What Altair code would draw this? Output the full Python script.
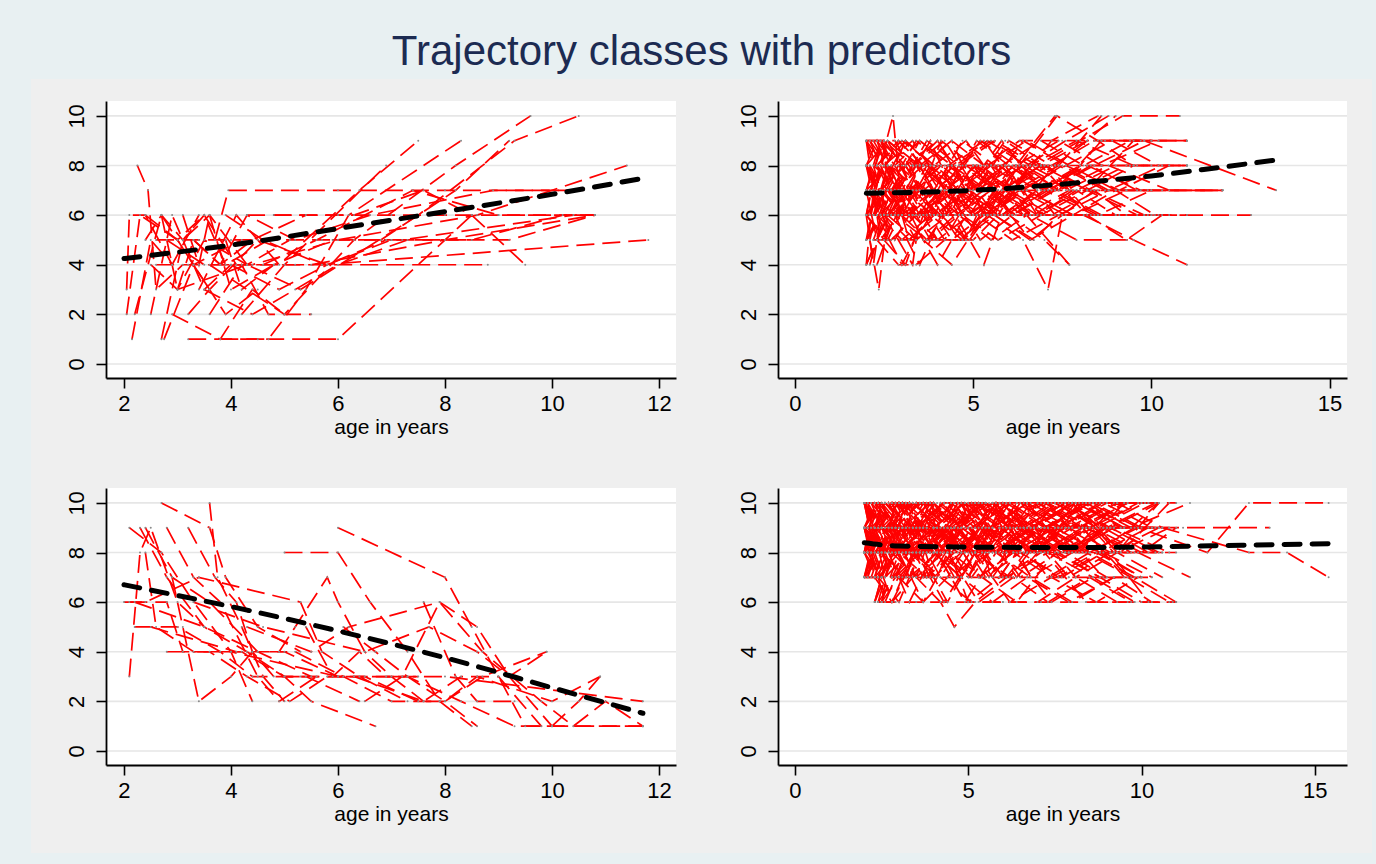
import altair as alt
import pandas as pd

TITLE = "Trajectory classes with predictors"
X_TITLE = "age in years"

# Individual trajectories per latent class, written as "age score age score ..."
CLASS1_PATHS = [
    "2.05 3 2.1 6 2.4 6 2.9 4",
    "2.25 8 2.45 7 2.6 3 3.1 4",
    "2.05 2 2.3 6 3.0 5 3.6 3",
    "2.15 1 2.5 5 2.9 4 3.4 6",
    "2.2 2 2.7 6 3.3 4 4.2 5",
    "2.5 2 2.9 6 3.5 3 4.0 4",
    "2.7 1 3.1 5 3.6 6 4.3 4",
    "2.75 1 3.3 4 3.9 2 4.5 3",
    "2.9 2 3.8 1 4.4 3 5.0 2",
    "3.2 1 4.5 1 6.0 1 8.5 6",
    "3.7 5 3.95 7 6.0 7 8.0 7 10.3 7",
    "2.4 6 3.0 5 3.5 6 4.1 4 5.2 4 8.8 4",
    "3.4 3 4.1 6 4.9 4 6.4 7 7.5 9",
    "4.2 2 5.0 4 6.9 8",
    "3.8 1 4.7 1 5.4 3 6.2 6 8.3 9",
    "3.6 4 5.0 2 6.3 5 8.2 8 9.6 10",
    "3.0 3 4.3 4 5.3 3 7.5 6 9.3 9 10.5 10",
    "2.8 5 3.5 4 4.4 4 6.0 5 8.6 6 11.4 8",
    "2.6 4 3.2 4 4.0 4 5.5 4 8.0 5 10.8 6",
    "3.9 6 4.6 5 5.7 4 11.8 5",
    "4.8 6 6.3 6 7.6 7 8.5 6 9.5 4",
    "3.3 5 3.8 4 4.3 6 5.2 5 6.6 6 8.9 7 10.6 7",
    "2.5 4 3.0 3 3.5 5 4.3 4 5.1 5",
    "3.6 2 4.2 4 4.7 2 5.5 2",
    "4.6 4 5.6 5 7.4 7 9.0 6 10.8 6",
    "4.3 6 6.0 6 7.0 6 8.0 6 9.0 6 10.8 6",
    "2.4 5 2.7 6 3.1 5 3.5 6 3.9 4 4.7 5",
    "3.1 6 3.4 4 3.6 6 4.0 3 4.8 4",
    "2.7 6 3.0 3 3.3 5 3.8 4 4.4 5 5.4 6",
    "3.9 5 4.2 3 4.8 4 5.9 5 7.2 5 10.4 6",
    "4.0 4 4.9 3 5.8 4 7.0 5 8.5 5 10.2 6 10.8 6",
    "6.8 5 8.2 7 9.2 9",
    "3.5 3 4.4 2 5.2 3 6.0 4 7.3 5 9.2 5 10.8 6",
    "2.6 5 3.4 5 4.0 5 4.8 5 5.7 5 7.0 5",
    "3.2 2 3.6 3 4.5 5 5.8 4 6.9 5",
]

CLASS2_PATHS = [
    "2.0 9 2.3 6 2.7 8 3.4 7 4.1 8 5.0 6 6.2 7",
    "2.0 6 2.2 4 2.5 7 3.1 9 3.8 8 4.6 7 5.5 8 6.4 6",
    "2.1 8 2.4 5 2.9 6 3.5 8 4.2 6 5.1 7 6.0 9 7.2 8 8.4 9",
    "2.0 4 2.2 7 2.75 10 2.95 7 3.5 6 4.3 7 5.2 6",
    "2.1 5 2.35 3 2.6 6 3.2 7 4.0 5 4.9 6 5.8 7 6.9 8",
    "2.0 7 2.5 9 3.0 8 3.6 6 4.4 8 5.4 9 6.5 8 7.6 9 8.8 10",
    "2.2 6 2.6 8 3.2 5 3.9 6 4.7 8 5.6 7 6.7 6 7.8 7",
    "2.0 8 2.3 9 2.8 7 3.3 8 4.0 9 4.8 7 5.7 6 6.6 8",
    "2.1 9 2.7 7 3.4 6 4.2 7 5.1 8 6.1 6 7.3 7 8.6 6 10.2 6",
    "2.0 5 2.4 8 3.0 6 3.7 5 4.5 6 5.3 4 5.8 6 6.8 7",
    "2.3 4 2.8 6 3.5 4 4.1 6 4.8 5 5.6 7 6.6 6",
    "2.0 6 2.6 5 3.3 7 4.1 8 5.0 7 6.0 8 7.1 7 8.3 8 9.6 7 12.0 7",
    "2.2 7 2.9 9 3.6 8 4.4 9 5.3 8 6.3 9 7.5 9 8.7 9 9.8 9",
    "2.0 9 2.5 8 3.1 9 3.9 7 4.8 8 5.9 8 7.0 8 8.2 7 9.5 8 11.0 8",
    "2.4 6 3.0 7 3.8 5 4.6 6 5.5 5 6.5 6 7.7 4",
    "2.1 7 2.8 5 3.6 7 4.5 6 5.4 6 6.4 5 7.1 3 7.5 6 8.4 7 9.3 6",
    "2.0 8 2.4 7 3.0 6 3.8 8 4.7 6 5.7 5 6.9 6 8.1 6 9.5 5 11.0 4",
    "2.2 5 2.7 7 3.4 8 4.3 7 5.2 9 6.2 8 7.3 10",
    "2.0 6 2.3 8 2.9 7 3.7 9 4.6 8 5.6 9 6.8 8 8.0 9 9.2 10 10.8 10",
    "2.5 5 3.1 4 3.6 6 4.5 7 5.4 6 6.5 7 7.8 6 9.0 7 10.1 6",
    "2.0 7 2.6 6 3.3 6 4.0 5 4.8 5 5.1 6 6.1 5 7.4 6",
    "2.3 8 3.0 9 3.9 8 4.8 9 5.8 7 6.9 8 8.2 9 9.7 9 11.0 9",
    "2.0 5 2.5 6 3.2 5 4.0 6 4.9 6 5.9 6 7.0 7 8.4 6 9.8 6 12.8 6",
    "2.1 4 2.5 6 3.3 4 3.5 6 4.3 8 5.3 7 6.4 8 7.7 7",
    "2.0 9 2.4 7 3.1 8 3.9 6 4.9 7 5.9 6 7.1 7 8.4 8 9.8 9 13.5 7",
    "2.6 9 3.3 7 4.1 6 5.0 8 6.0 6 7.0 5 7.7 4",
    "2.0 8 2.7 6 3.5 7 4.4 5 5.3 6 6.3 7 7.6 8 9.1 7 10.5 8",
    "2.2 6 2.9 8 3.7 7 4.6 5 5.5 6 6.6 8 7.9 7 9.3 8 11.0 8",
    "2.0 7 2.4 9 3.2 7 4.0 8 4.9 6 5.8 8 6.9 9 8.1 8 9.4 9 11.0 9",
    "2.1 6 2.6 9 3.4 8 4.3 6 5.2 8 6.2 7 7.4 8 8.7 7 10.0 7 12.0 7",
    "2.0 8 2.3 6 3.0 5 3.8 6 4.7 5 5.7 7 6.8 6 8.0 7",
    "2.3 9 2.8 8 3.5 9 4.4 8 5.4 7 6.4 9 7.6 8 8.9 9 10.2 8",
    "2.0 4 2.6 6 3.4 5 4.2 7 5.1 8 6.1 7 7.2 9 8.5 10",
    "2.2 7 2.7 5 3.4 6 4.1 7 5.0 6 6.0 7 7.2 6 8.5 7 9.9 7",
    "2.0 6 2.4 7 3.1 9 3.9 8 4.8 7 5.8 9 6.9 7 8.2 8 9.6 8",
    "2.4 7 3.2 6 4.0 4 4.8 6 5.9 7 7.0 6 8.6 6 9.9 6",
    "2.0 8 2.5 6 3.3 8 4.2 9 5.1 7 6.2 8 7.4 9 8.6 8 10.2 9 11.0 9",
    "2.1 9 2.6 8 3.3 6 4.1 9 5.0 8 6.0 7 7.1 8 8.3 6",
    "2.3 6 3.0 4 3.7 6 4.6 8 5.6 6 6.7 5 7.4 6 8.8 7",
    "2.0 7 2.7 8 3.5 6 4.3 7 5.2 5 6.1 6 7.2 7 8.5 6 10.0 7",
    "2.2 8 3.0 7 3.8 9 4.7 6 5.7 8 6.8 7 8.0 8 9.4 8 11.0 8",
    "2.0 5 2.4 6 3.1 8 4.0 6 4.9 5 5.9 7 7.0 8 8.3 7 9.8 6",
    "2.5 8 3.3 9 4.2 7 5.1 6 6.1 8 7.3 7 8.6 9 10.0 9",
    "2.0 6 2.6 7 3.4 5 4.3 6 5.3 7 6.4 6 7.7 7 9.3 7",
    "2.1 7 2.5 8 3.2 6 3.9 7 4.7 9 5.6 8 6.6 6 7.9 5 9.5 5",
    "2.0 9 2.8 9 3.6 7 4.5 8 5.5 9 6.6 8 7.9 9 9.5 8 11.0 8",
    "2.3 5 2.9 7 3.6 5 4.4 4 5.3 6 6.3 7 7.6 6 9.0 6 10.5 6",
    "2.0 8 2.6 9 3.5 8 4.4 7 5.4 8 6.5 9 7.7 8 9.0 7 10.3 7 12.0 7",
    "2.2 6 2.8 7 3.6 8 4.5 6 5.5 7 6.6 5 7.8 6 9.1 6",
    "2.0 7 2.3 5 3.0 7 3.8 7 4.6 6 5.5 8 6.5 7 7.8 6 9.3 7",
    "2.1 8 2.9 6 3.7 8 4.6 7 5.6 6 6.7 8 7.4 8 8.6 10",
    "2.0 6 2.5 5 3.2 7 4.1 6 5.0 8 6.1 6 7.3 8 8.2 9 9.0 10",
    "2.4 9 3.1 8 4.0 9 4.9 7 5.9 8 6.9 6 8.2 7 9.6 6 11.0 6",
    "2.0 5 2.7 7 3.5 9 4.4 8 5.4 6 6.4 7 7.5 8 8.8 7 10.3 8 11.0 8",
    "2.2 7 2.8 6 3.5 7 4.3 8 5.2 7 6.2 6 7.3 6 8.5 6 10.0 6",
    "3.0 6 3.8 8 4.6 6 5.5 7 6.4 8 7.4 7 8.6 9 10.2 9",
    "2.0 9 2.3 8 2.9 9 3.6 8 4.3 7 5.1 9 6.0 8 7.0 7 8.0 8",
    "2.1 5 2.6 8 3.3 7 4.2 5 5.0 7 5.9 8 6.8 6 7.9 7 9.0 6",
    "2.0 7 2.8 6 3.7 5 4.7 7 5.8 6 6.9 7 8.2 8 9.7 7 12.0 7",
    "2.3 8 3.0 6 3.9 7 4.8 8 5.8 7 6.9 8 8.2 7 9.5 9 10.0 9",
    "2.0 6 2.4 9 3.2 6 4.0 7 4.8 5 5.4 6 6.2 8 7.3 6",
    "2.2 9 3.0 7 3.9 6 4.9 7 5.9 9 6.9 8 8.2 6 9.3 5 10.3 6",
    "2.0 8 2.6 7 3.4 9 4.3 8 5.3 9 6.3 7 7.6 7 9.0 8",
    "2.1 6 2.7 6 3.5 8 4.4 9 5.3 6 6.3 8 7.4 7 8.8 8 10.5 7",
    "2.0 9 2.5 9 3.3 8 4.2 8 5.2 8 6.2 8 7.3 8 8.6 8 10.0 8",
    "2.0 6 2.5 6 3.3 6 4.2 6 5.1 6 6.1 6 7.2 6 8.6 6 10.0 6",
    "2.2 5 3.0 5 3.9 5 4.7 5 5.6 6 6.6 5 7.5 6",
    "2.0 4 2.3 5 2.9 4 3.4 4 4.2 5 5.0 5 5.7 6",
    "2.6 7 3.4 6 4.5 7 5.6 6 6.3 8 7.35 10 8.5 9 9.5 8 10.5 8",
]

CLASS3_PATHS = [
    "2.1 3 2.3 8 2.5 9 3.0 6 3.5 5",
    "3.6 10 3.75 7 4.2 5 4.6 3 5.0 2",
    "2.7 10 3.6 9 3.9 7 4.5 5 5.3 4",
    "2.1 9 2.7 8 3.3 6 4.0 4 4.4 2",
    "5.0 8 6.0 8 6.6 6 7.3 4 7.9 2 8.5 1",
    "2.9 7 3.1 5 3.4 2 4.0 3 4.4 4",
    "6.0 9 8.0 7 8.5 5 9.0 3 9.5 1 10.0 1 11.7 1",
    "2.0 6 2.4 6 3.4 7 5.3 6 5.7 4 6.4 3 7.3 2",
    "4.9 4 5.2 5 5.8 7 6.0 6 6.5 4 7.0 3 7.6 2",
    "4.3 5 5.5 4 6.2 5 7.9 6 8.6 5 9.2 3 10.0 1",
    "3.3 6 4.6 5 6.5 4 7.7 5 8.6 4 9.2 3 9.9 4",
    "2.8 4 4.0 4 6.0 3 8.0 3 11.7 2",
    "2.2 5 3.0 5 3.8 4 4.4 3 5.4 3 6.4 2",
    "2.3 9 2.8 7 3.5 5 4.3 4 5.0 3 5.5 2 6.7 1",
    "2.4 9 2.9 7 3.6 6 4.5 4 5.2 4 6.1 3 7.0 2 7.9 2",
    "2.8 9 3.3 7 3.8 6 4.5 3 4.9 2 5.6 3",
    "3.2 9 3.7 7 4.1 6 4.4 4 4.8 3 5.3 3",
    "2.2 6 3.5 5 4.5 4 5.5 3 6.5 3 7.5 2 8.0 2 8.6 1",
    "2.5 5 4.1 4 5.0 4 6.0 3 7.3 3 8.3 2 9.3 1 11.7 1",
    "2.4 8 2.6 5 3.3 4 4.2 4 5.0 3 6.3 3 7.6 2 8.3 3 9.0 3 9.8 1",
    "6.1 5 6.7 4 7.3 3 8.0 2 8.6 3 10.0 2 10.9 3",
    "8.0 2 8.7 3 9.9 4",
    "6.5 2 7.2 3 7.9 6 8.7 4 9.8 2 10.4 1 11.0 2 11.7 1",
    "10.0 1 10.5 2 10.9 3",
    "2.1 6 2.8 6 3.1 4 3.6 4 4.3 3 5.1 2 5.8 3",
    "5.4 5 5.9 3 6.4 4 6.9 3 7.5 3",
    "7.6 6 8.2 3 8.6 2 9.3 2",
]

CLASS4_PATHS = [
    "2.0 10 2.3 8 2.8 9 3.4 10 4.1 9 5.0 10 6.0 9 7.1 10 8.3 9 9.6 10",
    "2.0 9 2.4 7 3.0 8 3.7 9 4.5 7 5.4 8 6.4 9 7.6 8 8.9 9 10.2 8",
    "2.1 7 2.5 10 3.1 9 3.8 7 4.6 8 5.5 9 6.5 7 7.6 8 8.8 7",
    "2.0 8 2.3 10 2.9 8 3.5 9 4.3 10 5.2 8 6.2 10 7.3 9 8.5 10 10.0 10",
    "2.3 6 2.6 7 3.2 9 3.9 8 4.7 10 5.6 9 6.6 8 7.8 9 9.1 8 10.5 9",
    "2.0 10 2.6 9 3.3 10 4.0 8 4.9 9 5.9 10 6.9 9 8.1 10 9.4 9",
    "2.0 7 2.4 9 3.0 7 3.6 8 4.4 6 5.2 8 6.1 7 7.2 9 8.4 8 9.7 7",
    "2.2 8 2.7 10 3.4 8 4.1 9 4.9 8 5.8 10 6.8 8 8.0 9 9.3 10",
    "2.0 9 2.3 10 2.9 9 3.6 10 4.4 9 5.3 10 6.3 9 7.4 10 8.6 10 10.0 9",
    "2.4 6 2.8 8 3.5 7 4.2 10 5.0 9 5.9 7 6.9 9 8.0 8 9.2 9",
    "2.0 10 2.5 8 3.1 10 3.8 9 4.6 10 5.5 8 6.5 10 7.7 9 9.0 10 10.4 10",
    "2.1 8 2.6 9 3.3 7 4.0 9 4.8 8 5.7 10 6.7 9 7.9 8 9.2 9 10.8 8",
    "2.0 9 2.4 8 3.0 10 3.7 8 4.5 10 5.4 9 6.4 8 7.5 10 8.8 9",
    "2.5 6 3.0 8 3.7 6 4.4 7 5.3 9 6.3 8 7.4 7 8.7 8 10.0 7",
    "2.0 10 2.3 9 2.8 10 3.3 8 4.0 10 4.8 9 5.7 10 6.8 9 8.0 10 9.3 10",
    "2.0 7 2.6 8 3.3 10 4.1 8 5.0 7 5.9 9 7.0 8 8.2 10 9.5 9 10.5 9",
    "2.2 9 2.8 7 3.5 9 4.3 10 5.2 8 6.2 9 7.3 10 8.5 8 9.8 9",
    "2.0 8 2.5 9 3.2 8 3.9 10 4.7 9 5.6 7 6.6 9 7.8 10 9.1 9 10.5 10",
    "2.3 6 2.7 8 3.3 6 4.0 8 4.8 7 5.7 6 6.7 7 7.9 6 9.2 7 10.3 6",
    "2.0 10 2.4 10 3.0 9 3.6 9 4.4 10 5.2 10 6.2 9 7.3 9 8.6 10 11.0 10",
    "2.1 9 2.7 8 3.4 9 4.2 7 5.1 9 6.1 10 7.2 8 8.4 9 9.9 8 11.4 7",
    "2.0 8 2.3 7 2.9 10 3.6 9 4.4 8 5.3 10 6.3 8 7.5 9 8.8 8",
    "2.4 7 3.0 6 3.6 8 4.4 9 5.3 7 6.3 8 7.4 6 8.6 7 9.8 6 11.0 6",
    "2.0 10 2.6 8 3.3 9 4.1 10 5.0 9 5.9 8 7.0 10 8.2 9 9.6 10",
    "2.0 9 2.3 7 2.9 8 3.5 10 4.3 8 5.2 9 6.2 10 7.3 8 8.5 9 10.0 10",
    "2.2 10 2.8 9 3.5 7 4.3 8 5.2 10 6.2 9 7.3 8 8.6 9 10.0 8 11.0 9",
    "2.0 7 2.5 8 3.1 10 3.8 8 4.6 9 5.5 10 6.5 8 7.6 9 8.9 7 10.3 7",
    "2.5 6 2.9 9 3.5 8 4.2 9 5.0 6 5.9 7 6.9 9 8.1 8 9.4 8",
    "2.0 9 2.5 10 3.2 8 4.0 9 4.9 10 5.8 8 6.8 9 8.0 10 9.3 8 10.8 9",
    "2.1 8 2.5 10 3.0 8 3.7 9 4.4 8 5.3 10 6.2 9 7.3 7 8.5 8 9.8 8",
    "2.0 10 2.3 9 3.0 10 3.7 9 4.6 10 5.5 10 6.6 9 7.7 10 9.0 10 10.5 10",
    "2.3 7 2.8 6 3.4 7 4.1 8 4.9 6 5.8 8 6.8 7 8.0 6 9.2 7",
    "2.0 8 2.6 10 3.4 9 4.2 8 5.1 10 6.1 8 7.2 9 8.4 10 9.7 9 10.5 10",
    "2.0 9 2.4 8 3.1 9 3.9 10 4.8 8 5.7 9 6.7 10 7.9 9 9.2 8 10.6 8",
    "2.2 7 2.7 9 3.3 10 4.0 7 4.8 8 5.7 10 6.7 8 7.9 9 9.2 10",
    "2.0 10 2.5 9 3.1 8 3.8 10 4.6 9 5.5 8 6.5 9 7.6 10 8.9 9 10.3 9",
    "2.4 6 2.9 7 3.6 9 4.4 8 5.3 6 6.3 7 7.3 6 8.5 7 9.7 6",
    "2.0 8 2.3 9 2.9 7 3.6 8 4.4 9 5.3 7 6.3 8 7.5 9 8.8 8 10.2 9",
    "2.1 9 2.6 10 3.2 9 4.0 8 4.9 10 5.9 9 7.0 10 8.2 9 9.5 10 10.5 10",
    "2.0 7 2.4 7 3.0 8 3.8 7 4.6 9 5.5 7 6.5 8 7.7 7 8.9 8 10.3 7",
    "2.0 9 2.7 8 3.5 10 4.3 9 5.2 8 6.2 10 7.3 9 8.5 8 9.9 9 11.9 8 13.1 10 15.4 10",
    "2.2 8 2.8 10 3.6 8 4.5 9 5.5 10 6.6 9 7.8 8 9.1 9 10.6 9 13.1 8 14.2 8 15.4 7",
    "2.0 10 2.4 8 3.1 9 3.9 7 4.8 9 5.8 8 6.8 10 8.0 9 9.4 9 11.2 9 13.7 9",
    "2.3 7 2.8 9 3.5 7 4.2 6 4.6 5 5.2 6 6.1 7 7.3 8 8.6 7 10.0 7",
    "2.0 8 2.5 7 3.2 9 4.0 8 4.8 10 5.7 7 6.7 9 7.9 7 9.1 8 10.2 6",
    "2.1 10 2.6 7 3.3 8 4.1 9 5.0 7 6.0 10 7.1 8 8.3 9 9.6 7 10.8 6",
    "2.0 9 2.4 10 3.0 8 3.7 10 4.5 8 5.4 9 6.4 7 7.6 9 8.9 10 10.3 9",
    "2.0 7 2.3 8 2.8 6 3.5 8 4.3 9 5.2 8 6.2 6 7.4 7 8.7 6 9.9 7",
    "2.2 9 2.9 10 3.7 8 4.6 10 5.6 8 6.6 9 7.8 10 9.0 9 10.4 10",
    "2.0 8 2.5 8 3.2 7 4.0 10 4.9 8 5.8 10 6.8 7 8.0 8 9.3 10 10.6 9",
    "2.4 6 2.8 6 3.4 8 4.2 7 5.1 6 6.0 6 7.0 6 8.1 7 9.3 6",
    "2.0 10 2.3 8 2.9 9 3.6 10 4.5 9 5.4 10 6.4 9 7.5 10 8.7 9 10.1 10",
    "2.0 9 2.5 7 3.2 10 4.0 9 4.9 8 5.9 9 6.9 8 8.1 10 9.5 9 10.8 9",
    "2.1 7 2.6 9 3.3 8 4.1 7 5.0 10 6.0 8 7.1 9 8.3 8 9.6 8 11.0 8",
    "2.0 8 2.4 10 3.0 9 3.8 8 4.7 9 5.6 10 6.7 8 7.9 10 9.2 8",
    "2.3 6 2.7 8 3.4 9 4.2 8 5.1 7 6.1 9 7.2 8 8.4 6 9.6 6 10.9 6",
    "2.0 10 2.6 10 3.4 9 4.3 10 5.2 9 6.2 10 7.3 10 8.5 9 9.9 10",
    "2.0 9 2.3 9 3.0 8 3.8 9 4.7 8 5.6 9 6.6 8 7.8 9 9.1 9 10.4 8",
    "2.2 8 2.6 6 3.2 8 3.9 10 4.7 7 5.6 8 6.6 10 7.8 8 9.0 7",
    "2.0 7 2.5 9 3.2 10 4.0 8 4.8 7 5.7 9 6.7 10 7.9 8 9.1 9 10.5 8",
    "2.0 10 2.4 9 3.0 10 3.8 8 4.7 10 5.6 9 6.7 10 7.8 8 9.0 9",
    "2.1 8 2.5 7 3.1 9 3.9 10 4.8 9 5.8 8 6.9 9 8.1 10 9.4 8 10.8 10",
    "2.5 6 3.0 7 3.7 6 4.5 8 5.4 7 6.4 6 7.5 8 8.8 7 10.0 6",
    "2.0 9 2.6 8 3.3 10 4.1 9 5.0 8 5.9 10 7.0 9 8.2 8 9.5 10",
    "2.0 8 2.3 10 2.9 9 3.7 7 4.6 9 5.5 10 6.5 9 7.7 8 9.0 9 10.4 9",
    "2.2 10 2.8 8 3.5 9 4.3 10 5.2 8 6.1 9 7.2 10 8.4 9 9.7 8",
    "2.0 7 2.5 10 3.2 8 4.0 9 4.9 10 5.8 8 6.9 9 8.1 7 9.3 8 10.6 7",
    "2.3 9 2.8 7 3.5 8 4.3 6 5.2 8 6.2 7 7.3 9 8.5 8 9.8 7 11.0 6",
    "2.0 10 2.5 9 3.2 8 4.0 9 4.9 10 5.9 9 7.0 8 8.3 10 9.7 9 11.4 10",
    "2.0 8 2.4 9 3.0 10 3.7 8 4.5 9 5.4 8 6.4 10 7.6 9 8.8 10 10.2 10",
    "2.1 9 2.5 8 3.1 7 3.8 9 4.6 7 5.5 9 6.5 8 7.6 7 8.8 8 10.0 7",
    "2.0 10 2.4 10 3.0 10 3.7 10 4.5 10 5.4 10 6.4 10 7.5 10 8.7 10 10.2 10",
    "2.0 9 2.5 9 3.2 9 4.0 9 4.8 9 5.7 9 6.7 9 7.9 9 9.2 9 10.5 9",
    "2.0 8 2.5 8 3.2 8 4.0 8 4.8 8 5.7 8 6.7 8 7.9 8 9.2 8 10.6 8",
    "2.0 7 2.5 7 3.2 7 4.0 7 4.8 7 5.7 7 6.7 7 7.9 7 9.0 7",
    "2.4 6 2.9 6 3.5 6 4.2 6 5.0 6 6.0 6 7.1 6 8.4 6 9.8 6",
    "2.2 8 2.6 9 3.3 7 4.1 8 5.0 9 6.0 7 7.1 8 8.3 9 9.5 7",
    "2.0 9 2.4 7 3.1 10 3.9 8 4.8 10 5.7 8 6.8 9 8.0 10 9.3 8 10.5 10",
    "2.1 10 2.5 9 3.1 8 3.7 9 4.4 8 5.2 10 6.1 8 7.2 9 8.4 10",
    "2.0 8 2.7 9 3.4 10 4.2 9 5.1 8 6.1 10 7.2 9 8.5 10 9.9 9",
]

# Class-average predicted trajectories
FIT1_AGE = [2, 4, 6, 8, 10, 11.8]
FIT1_SCORE = [4.25, 4.79, 5.46, 6.14, 6.84, 7.52]
FIT2_AGE = [2, 5, 8, 10, 12, 13.5]
FIT2_SCORE = [6.88, 7.0, 7.31, 7.58, 7.94, 8.22]
FIT3_AGE = [2, 4, 6, 8, 10, 11.7]
FIT3_SCORE = [6.7, 5.82, 4.84, 3.76, 2.55, 1.52]
FIT4_AGE = [2, 3, 5, 7.5, 10, 12, 15.5]
FIT4_SCORE = [8.39, 8.26, 8.22, 8.2, 8.22, 8.27, 8.36]

Y_TICKS = [0, 2, 4, 6, 8, 10]
X_TICKS_SHORT = [2, 4, 6, 8, 10, 12]
X_TICKS_LONG = [0, 5, 10, 15]

FONT = "Liberation Sans"
OUTER_BG = "#e8f0f2"
INNER_BG = "#efefef"


def paths_frame(paths):
    rows = []
    for i, p in enumerate(paths):
        nums = [float(v) for v in p.split()]
        for a, s in zip(nums[0::2], nums[1::2]):
            rows.append({"id": i, "age": a, "score": s})
    return pd.DataFrame(rows)


def panel(paths, fit_age, fit_score, x_domain, x_ticks, width, height, box):
    xs = alt.Scale(domain=x_domain, nice=False, zero=False)
    ys = alt.Scale(domain=[-0.565, 10.6], nice=False, zero=False)
    x_axis = alt.Axis(values=x_ticks, title=X_TITLE, grid=False, format="d", zindex=1,
                      labelPadding=5, titlePadding=2)
    y_axis = alt.Axis(values=Y_TICKS, title=None, grid=False, format="d", zindex=1,
                      labelPadding=8, labelAngle=270, labelAlign="center",
                      labelBaseline="bottom")
    X = alt.X("age:Q", scale=xs, axis=x_axis)
    Y = alt.Y("score:Q", scale=ys, axis=y_axis)

    one = pd.DataFrame({"k": [0]})
    frame = alt.Chart(one).mark_rect(color=INNER_BG).encode(
        x=alt.value(box[0]), x2=alt.value(box[1]),
        y=alt.value(box[2]), y2=alt.value(box[3]))
    plot_bg = alt.Chart(one).mark_rect(color="white").encode(
        x=alt.value(0), x2=alt.value(width), y=alt.value(0), y2=alt.value(height))
    grid = alt.Chart(pd.DataFrame({"score": Y_TICKS})).mark_rule(
        color="#e6e6e6", strokeWidth=1.6).encode(
        y=Y, x=alt.value(0), x2=alt.value(width))

    df = paths_frame(paths)
    red = alt.Chart(df).mark_line(
        color="#ff0000", strokeWidth=1.7, strokeDash=[18, 8]).encode(
        x=X, y=Y, detail="id:N")
    dots = alt.Chart(df).mark_circle(color="#8a8a8a", size=4, opacity=1).encode(x=X, y=Y)
    fit = alt.Chart(pd.DataFrame({"age": fit_age, "score": fit_score})).mark_line(
        color="black", strokeWidth=5, strokeDash=[16, 12], strokeCap="round",
        interpolate="monotone").encode(x=X, y=Y)

    return alt.layer(frame, plot_bg, grid, red, dots, fit).properties(
        width=width, height=height)


W1, W2, H = 570, 569, 277
p1 = panel(CLASS1_PATHS, FIT1_AGE, FIT1_SCORE, [1.664, 12.318], X_TICKS_SHORT, W1, H,
           (-75, 621, -22, 340))
p2 = panel(CLASS2_PATHS, FIT2_AGE, FIT2_SCORE, [-0.477, 15.49], X_TICKS_LONG, W2, H,
           (-51, 594, -22, 340))
p3 = panel(CLASS3_PATHS, FIT3_AGE, FIT3_SCORE, [1.664, 12.318], X_TICKS_SHORT, W1, H,
           (-75, 621, -47, 365))
p4 = panel(CLASS4_PATHS, FIT4_AGE, FIT4_SCORE, [-0.49, 15.93], X_TICKS_LONG, W2, H,
           (-51, 594, -47, 365))

chart = alt.concat(
    p1, p2, p3, p4, columns=2,
    spacing=alt.RowColnumber(row=110, column=102), bounds="flush",
).properties(
    title=alt.TitleParams(TITLE, font=FONT, fontSize=42, fontWeight="normal",
                          color="#1c2b52", anchor="middle", offset=5),
    padding={"left": 31, "top": 31, "right": 4, "bottom": 12},
    background=OUTER_BG,
).configure_view(strokeWidth=0).configure_axis(
    domainColor="black", domainWidth=1.8, tickColor="black", tickWidth=1.6,
    tickSize=10, labelFont=FONT, labelFontSize=22, labelColor="black",
    labelFlush=False, labelOverlap=False,
    titleFont=FONT, titleFontSize=21, titleFontWeight="normal", titleColor="black",
)

chart.save("out.html", embed_options={"renderer": "svg", "actions": False})
